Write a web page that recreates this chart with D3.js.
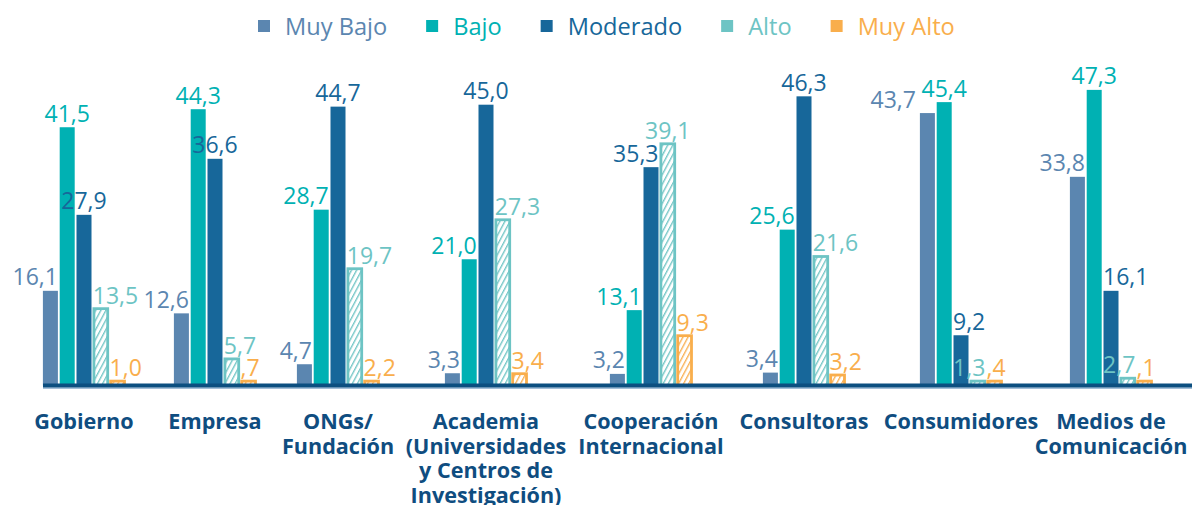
<!DOCTYPE html>
<html>
<head>
<meta charset="utf-8">
<script src="https://d3js.org/d3.v7.min.js"></script>
<style>
  html, body { margin: 0; padding: 0; background: #fff; }
  svg { display: block; font-family: "Open Sans", "Noto Sans", sans-serif; }
</style>
</head>
<body>
<svg id="chart" width="1192" height="505"></svg>
<script>
// datos
var categories = ["Gobierno", "Empresa", "ONGs/\nFundación", "Academia\n(Universidades\ny Centros de\nInvestigación)",
  "Cooperación\nInternacional", "Consultoras", "Consumidores", "Medios de\nComunicación"];
var series = ["Muy Bajo", "Bajo", "Moderado", "Alto", "Muy Alto"];
var muyBajo  = [16.1, 12.6, 4.7, 3.3, 3.2, 3.4, 43.7, 33.8];
var bajo     = [41.5, 44.3, 28.7, 21.0, 13.1, 25.6, 45.4, 47.3];
var moderado = [27.9, 36.6, 44.7, 45.0, 35.3, 46.3, 9.2, 16.1];
var alto     = [13.5, 5.7, 19.7, 27.3, 39.1, 21.6, 1.3, 2.7];
var muyAlto  = [1.0, 0.7, 2.2, 3.4, 9.3, 3.2, 0.4, 0.1];
var values = [muyBajo, bajo, moderado, alto, muyAlto];

// estilos
var colors = ["#5b86b0", "#00b1b3", "#17679a", "#6dc4c4", "#f9ae4c"];
var hatched = {"Alto": true, "Muy Alto": true};
var labelAnchor = {"Muy Bajo": "end", "Bajo": "end", "Moderado": "middle", "Alto": "start", "Muy Alto": "start"};
// "before" = termina a la izquierda de la barra
var anchorOverrides = {
  "Cooperación\nInternacional|Moderado": "end",
  "Consumidores|Muy Bajo": "before",
  "Consumidores|Moderado": "start",
  "Consumidores|Alto": "end",
  "Medios de\nComunicación|Moderado": "start",
  "Medios de\nComunicación|Alto": "end"
};
// layout (centros de grupo, no son datos)
var groupCenters = [84, 215, 338, 486, 651, 804, 961, 1111];
var axisY = 385.5;

var svg = d3.select("#chart");
var defs = svg.append("defs");

var x0 = d3.scaleOrdinal().domain(categories).range(groupCenters);
var x1 = d3.scaleBand().domain(series).range([-41.1, 41.1]).paddingInner(0.107);
var y = d3.scaleLinear().domain([0, 50]).range([394.5, 72.5]);
var color = d3.scaleOrdinal().domain(series).range(colors);

// tramas
series.forEach(function(s, i) {
  if (!hatched[s]) return;
  var p = defs.append("pattern")
    .attr("id", "hatch-" + i)
    .attr("patternUnits", "userSpaceOnUse")
    .attr("width", 4.5).attr("height", 4.5)
    .attr("patternTransform", "rotate(28)");
  p.append("rect").attr("width", 4.5).attr("height", 4.5).attr("fill", "#fff");
  p.append("line").attr("x1", 0.7).attr("y1", 0).attr("x2", 0.7).attr("y2", 4.5)
    .attr("stroke", colors[i]).attr("stroke-width", 1.3);
});

defs.append("clipPath").attr("id", "plot-clip")
  .append("rect").attr("x", 0).attr("y", 0).attr("width", 1192).attr("height", axisY);

var fmt = function(v) {
  return d3.format(".1f")(v).replace(".", ",").replace(/^0/, "");
};

var rows = [];
categories.forEach(function(c, ci) {
  var groupMax = d3.max(values, function(arr) { return arr[ci]; });
  series.forEach(function(s, si) {
    var v = values[si][ci];
    var anchor = labelAnchor[s];
    if (v === groupMax) anchor = "middle";
    if (anchorOverrides[c + "|" + s]) anchor = anchorOverrides[c + "|" + s];
    rows.push({cat: c, ser: s, si: si, value: v, anchor: anchor});
  });
});

var bars = svg.append("g").attr("clip-path", "url(#plot-clip)");

rows.forEach(function(d) {
  var bx = x0(d.cat) + x1(d.ser);
  var bw = x1.bandwidth();
  var top = Math.min(y(d.value), 380);
  d.bx = bx; d.bw = bw; d.top = top;
  if (hatched[d.ser]) {
    bars.append("rect")
      .attr("x", bx + 0.6).attr("y", top + 1.1)
      .attr("width", bw - 1.2).attr("height", y(0) - top)
      .attr("fill", "url(#hatch-" + d.si + ")")
      .attr("stroke", color(d.ser))
      .attr("stroke-width", 2.8);
  } else {
    bars.append("rect")
      .attr("x", bx).attr("y", top)
      .attr("width", bw).attr("height", y(0) - top)
      .attr("fill", color(d.ser));
  }
});

// eje
svg.append("rect").attr("x", 43).attr("y", axisY - 2).attr("width", 1192 - 43).attr("height", 4.2)
  .attr("fill", "#0c4f80");
svg.append("rect").attr("x", 43).attr("y", axisY + 2.2).attr("width", 1192 - 43).attr("height", 1.2)
  .attr("fill", "#9bb8d4");

// etiquetas de valores
svg.append("g").selectAll("text")
  .data(rows)
  .enter().append("text")
  .attr("x", function(d) {
    if (d.anchor === "end") return d.bx + d.bw;
    if (d.anchor === "before") return d.bx - 4;
    if (d.anchor === "start") return d.bx - 0.5;
    return d.bx + d.bw / 2;
  })
  .attr("y", function(d) { return d.top - (hatched[d.ser] ? 4 : 5.5); })
  .attr("text-anchor", function(d) { return d.anchor === "before" ? "end" : d.anchor; })
  .attr("font-size", "23px")
  .attr("fill", function(d) { return color(d.ser); })
  .text(function(d) { return fmt(d.value); });

// categorias
var catG = svg.append("g");
categories.forEach(function(c) {
  var t = catG.append("text")
    .attr("x", x0(c)).attr("y", 429)
    .attr("text-anchor", "middle")
    .attr("font-size", "21.6px")
    .attr("font-weight", "bold")
    .attr("fill", "#0f4d80");
  c.split("\n").forEach(function(line, li) {
    t.append("tspan").attr("x", x0(c)).attr("dy", li === 0 ? 0 : 24.5).text(line);
  });
});

// leyenda
var legend = svg.append("g");
var lx = 258;
series.forEach(function(s) {
  legend.append("rect").attr("x", lx).attr("y", 20).attr("width", 12).attr("height", 12)
    .attr("fill", color(s));
  var t = legend.append("text").attr("x", lx + 27).attr("y", 35)
    .attr("font-size", "23.6px").attr("fill", color(s)).text(s);
  lx = lx + 27 + t.node().getComputedTextLength() + 39;
});
</script>
</body>
</html>
